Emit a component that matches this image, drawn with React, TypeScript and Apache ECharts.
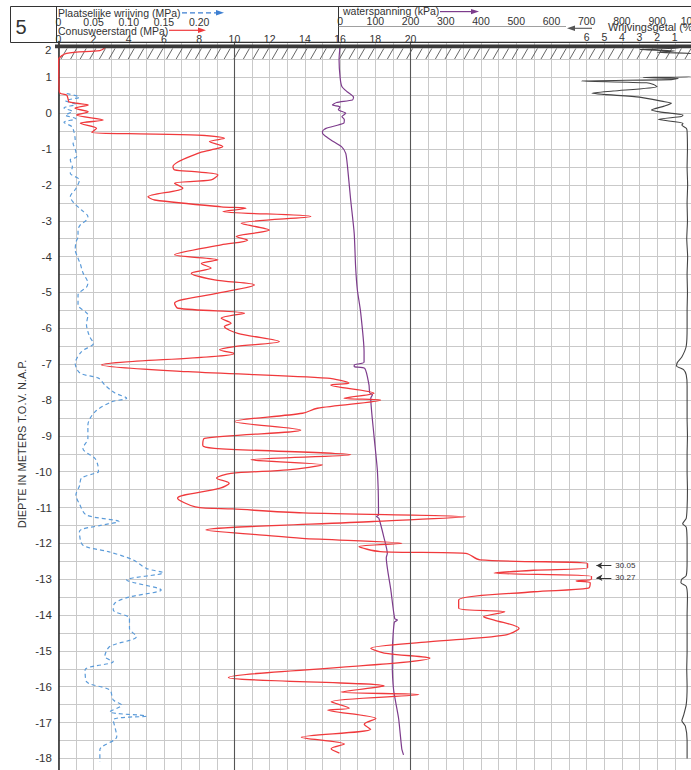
import React, { useEffect, useRef } from "react";
import * as echarts from "echarts";

// ---- Data ----
// Conusweerstand qc (MPa) vs depth (m t.o.v. NAP)
const qcDepth = [1.83,1.75,1.67,1.49,0.65,0.56,0.51,0.37,0.32,0.28,0.23,0.14,0.04,-0.05,-0.19,-0.28,-0.42,-0.53,-0.57,-0.61,-0.70,-0.79,-0.93,-1.02,-1.12,-1.49,-1.58,-1.63,-1.72,-1.86,-1.95,-2.09,-2.33,-2.42,-2.61,-2.65,-2.74,-2.88,-3.07,-3.26,-3.44,-3.54,-3.67,-3.95,-4.09,-4.19,-4.32,-4.46,-4.65,-4.79,-5.02,-5.30,-5.44,-5.58,-5.72,-5.86,-5.95,-6.14,-6.37,-6.51,-6.60,-6.70,-7.02,-7.21,-7.39,-7.53,-7.58,-7.81,-7.95,-8.00,-8.23,-8.37,-8.60,-8.84,-9.07,-9.26,-9.35,-9.53,-9.67,-9.81,-9.95,-10.05,-10.18,-10.32,-10.46,-10.74,-10.98,-11.04,-11.15,-11.26,-11.39,-11.63,-11.77,-11.86,-12.00,-12.09,-12.23,-12.28,-12.46,-12.56,-12.68,-12.75,-12.83,-12.92,-13.00,-13.05,-13.10,-13.25,-13.35,-13.58,-13.81,-13.91,-14.05,-14.14,-14.37,-14.56,-14.75,-14.93,-15.06,-15.20,-15.74,-15.98,-16.15,-16.22,-16.42,-16.60,-16.65,-16.89,-17.05,-17.19,-17.41,-17.60,-17.73,-17.85];
const qcValue = [2.65,2.36,0.47,0.02,0.05,0.1,0.47,0.57,0.6,1.04,1.7,0.95,1.7,1.04,2.55,1.25,2.17,1.9,4.0,7.92,9.43,8.58,9.34,8.68,7.92,6.51,6.6,7.74,9.06,8.68,6.6,7.07,5.09,5.47,9.25,10.66,9.34,14.34,10.38,11.98,10.1,10.75,9.25,6.6,9.06,8.12,8.68,7.55,8.87,11.13,9.06,6.6,6.79,10.57,9.25,9.81,9.43,10.19,12.55,10.0,9.15,10.0,2.46,7.36,15.28,16.5,15.47,17.92,16.22,18.3,14.71,13.87,10.0,13.77,8.3,8.2,8.87,16.6,10.94,14.99,13.03,9.8,8.99,9.7,9.19,6.77,7.78,9.9,13.9,23.13,17.88,8.38,11.6,13.84,19.5,17.07,18.28,23.13,23.94,30.05,30.05,27.0,24.75,30.27,30.27,29.4,30.2,30.1,27.0,22.73,22.73,25.35,24.14,24.75,26.16,25.35,21.0,17.74,18.5,21.1,9.66,18.5,16.05,20.47,15.49,16.52,15.3,18.03,17.37,17.74,13.8,16.24,15.49,15.96];

// Plaatselijke wrijving fs (MPa)
const fsDepth = [0.55,0.45,0.35,0.25,0.15,0.05,-0.05,-0.15,-0.25,-0.37,-0.5,-0.75,-0.84,-1.0,-1.21,-1.3,-1.5,-1.67,-1.86,-2.1,-2.33,-2.5,-2.7,-2.88,-2.98,-3.12,-3.26,-3.44,-3.6,-3.81,-4.0,-4.19,-4.45,-4.74,-4.85,-5.07,-5.35,-5.63,-5.9,-6.09,-6.25,-6.42,-6.65,-6.98,-7.25,-7.39,-7.58,-7.8,-7.95,-8.05,-8.33,-8.7,-9.07,-9.35,-9.63,-9.81,-10.0,-10.05,-10.18,-10.4,-10.65,-10.9,-11.21,-11.39,-11.5,-11.67,-12.05,-12.23,-12.46,-12.7,-12.82,-13.02,-13.3,-13.5,-13.67,-13.86,-14.09,-14.37,-14.6,-14.88,-15.16,-15.3,-15.53,-15.86,-16.09,-16.37,-16.51,-16.7,-16.82,-16.93,-17.39,-17.76,-18.09];
const fsValue = [0.012,0.03,0.01,0.025,0.008,0.02,0.01,0.025,0.008,0.019,0.022,0.024,0.021,0.024,0.026,0.017,0.02,0.017,0.03,0.025,0.017,0.022,0.033,0.042,0.04,0.031,0.028,0.028,0.025,0.024,0.027,0.031,0.035,0.042,0.04,0.028,0.028,0.042,0.04,0.042,0.045,0.05,0.033,0.024,0.031,0.057,0.066,0.08,0.097,0.076,0.052,0.042,0.042,0.035,0.052,0.056,0.057,0.051,0.033,0.03,0.025,0.03,0.04,0.086,0.06,0.03,0.035,0.071,0.106,0.125,0.149,0.097,0.146,0.1,0.08,0.078,0.101,0.101,0.111,0.073,0.066,0.078,0.038,0.04,0.073,0.078,0.09,0.073,0.125,0.078,0.083,0.059,0.059];

// Waterspanning u (kPa)
const uDepth = [1.9,1.5,1.0,0.75,0.6,0.45,0.37,0.3,0.23,0.18,0.1,0.0,-0.09,-0.18,-0.28,-0.42,-0.5,-0.56,-0.65,-0.75,-0.93,-1.12,-1.49,-2.42,-3.35,-4.28,-4.93,-5.53,-6.65,-6.95,-7.02,-7.07,-7.12,-7.58,-7.8,-7.85,-7.95,-8.98,-10.0,-11.21,-11.25,-11.3,-11.86,-12.28,-12.4,-13.3,-14.1,-14.14,-14.2,-14.79,-15.31,-16.1,-16.88,-17.73,-17.9];
const uValue = [0,-3,0,5,20,38,35,-10,-22,0,-5,16,5,12,10,-40,-50,-50,-40,-25,4,16,21,30,40,44,49,58,68,68,40,40,70,82,84,92,87,96,106,109,103,110,125,134,131,144,155,163,154,149,148,152,166,175,180];

// Wrijvingsgetal Rf (%)
const rfDepth = [1.88,1.85,1.82,1.78,1.74,1.7,1.65,1.04,1.0,0.97,0.94,0.9,0.85,0.8,0.74,0.62,0.56,0.45,0.32,0.28,0.2,0.09,0.04,-0.05,-0.09,-0.17,-0.28,-0.33,-0.42,-0.5,-1.0,-1.5,-2.0,-2.5,-3.0,-3.5,-4.0,-4.5,-5.0,-5.5,-6.0,-6.5,-6.8,-6.95,-7.05,-7.15,-7.3,-7.6,-8.0,-8.5,-9.0,-9.5,-10.0,-10.5,-11.0,-11.3,-11.45,-11.55,-12.0,-12.5,-12.9,-13.0,-13.1,-13.2,-13.5,-14.0,-14.5,-15.0,-15.5,-16.0,-16.5,-16.8,-16.95,-17.1,-17.5,-18.0];
const rfValue = [0,2.5,0.8,3.0,1.0,2.0,0,0,2.8,0.8,1.2,6.3,2.6,2.2,2.0,4.5,5.7,3.0,1.57,1.19,1.6,2.33,1.85,0.53,0.63,1.94,0.53,0.6,0.34,0.3,0.28,0.3,0.27,0.3,0.28,0.32,0.27,0.3,0.28,0.3,0.3,0.35,0.6,0.85,0.9,0.5,0.35,0.3,0.3,0.3,0.28,0.3,0.3,0.28,0.3,0.35,0.55,0.35,0.3,0.3,0.35,0.6,0.65,0.35,0.28,0.3,0.3,0.3,0.32,0.3,0.35,0.5,0.6,0.4,0.3,0.3];

// Clipped peak annotations
const peakDepths = [-12.62, -12.96];
const peakValues = [30.05, 30.27];

// Tick labels
const coneTicks = [0, 2, 4, 6, 8, 10, 12, 14, 16, 18, 20];
const fsTicks = [0, 0.05, 0.1, 0.15, 0.2];
const uTicks = [0, 100, 200, 300, 400, 500, 600, 700, 800, 900, 1000];
const rfTicks = [1, 2, 3, 4, 5, 6];
const depthLabelMin = -18;
const depthLabelMax = 1;

const FONT = '"Liberation Sans", Arial, sans-serif';
const RED = "#f0393c";
const BLUE = "#5b9bd9";
const PURPLE = "#7d3c8c";
const GRIDC = "#c9c9c9";

const has = (arr: number[], v: number) => arr.some((t) => Math.abs(t - v) < 1e-9);

export default function App() {
  const ref = useRef<HTMLDivElement>(null);
  useEffect(() => {
    if (!ref.current) return;
    const chart = echarts.init(ref.current, null, { renderer: "svg" });

    const hatch: any[] = [];
    for (let x = 61; x < 712; x += 9.6) {
      hatch.push({
        type: "line",
        shape: { x1: x, y1: 59, x2: x + 6, y2: 48.5 },
        style: { stroke: "#555", lineWidth: 0.9 },
        z: 1,
      });
    }

    const txt = (text: string, x: number, y: number, size: number, extra: any = {}) => ({
      type: "text",
      z: 10,
      style: {
        text,
        x,
        y,
        fill: "#333",
        fontSize: size,
        lineHeight: size,
        fontFamily: FONT,
        textVerticalAlign: "middle",
        ...extra,
      },
    });

    const graphic: any[] = [
      { type: "rect", z: 10, shape: { x: 10.5, y: 6.5, width: 720, height: 36 }, style: { fill: "none", stroke: "#333", lineWidth: 1 } },
      { type: "line", z: 10, shape: { x1: 56.5, y1: 6.5, x2: 56.5, y2: 42.5 }, style: { stroke: "#333", lineWidth: 1 } },
      { type: "line", z: 10, shape: { x1: 338.5, y1: 6.5, x2: 338.5, y2: 42.5 }, style: { stroke: "#333", lineWidth: 1 } },
      { type: "line", z: 10, shape: { x1: 338.5, y1: 26.5, x2: 566, y2: 26.5 }, style: { stroke: "#888", lineWidth: 0.8 } },
      { type: "rect", z: 10, shape: { x: 55, y: 44.5, width: 680, height: 3.8 }, style: { fill: "#3a3a3a" } },
      ...hatch,
      txt("5", 21, 27, 20, { textAlign: "center" }),
      txt("Plaatselijke wrijving (MPa)", 58, 13, 10.5),
      { type: "line", z: 10, shape: { x1: 182, y1: 12.8, x2: 217, y2: 12.8 }, style: { stroke: "#3d7fd1", lineWidth: 1.3, lineDash: [5, 3] } },
      { type: "polygon", z: 10, shape: { points: [[216, 10], [224, 12.8], [216, 15.6]] }, style: { fill: "#3d7fd1" } },
      txt("Conusweerstand (MPa)", 58, 30.8, 10.5),
      { type: "line", z: 10, shape: { x1: 169, y1: 30.3, x2: 199, y2: 30.3 }, style: { stroke: RED, lineWidth: 1.2 } },
      { type: "polygon", z: 10, shape: { points: [[198, 27.6], [206, 30.3], [198, 33]] }, style: { fill: RED } },
      txt("waterspanning (kPa)", 343, 11, 10.5),
      { type: "line", z: 10, shape: { x1: 440, y1: 11.6, x2: 472, y2: 11.6 }, style: { stroke: PURPLE, lineWidth: 1.2 } },
      { type: "polygon", z: 10, shape: { points: [[471, 8.9], [479, 11.6], [471, 14.3]] }, style: { fill: PURPLE } },
      txt("Wrijvingsgetal (%)", 608, 27, 11),
      { type: "line", z: 10, shape: { x1: 574, y1: 28.3, x2: 592, y2: 28.3 }, style: { stroke: "#555", lineWidth: 1.1 } },
      { type: "polygon", z: 10, shape: { points: [[575, 25.6], [567, 28.3], [575, 31]] }, style: { fill: "#555" } },
      txt("2", 51.5, 49.5, 11.5, { textAlign: "right" }),
      {
        type: "text",
        z: 10,
        x: 22,
        y: 444,
        rotation: Math.PI / 2,
        style: {
          text: "DIEPTE IN METERS T.O.V. N.A.P.",
          fill: "#333",
          fontSize: 11,
          fontFamily: FONT,
          textAlign: "center",
          textVerticalAlign: "middle",
        },
      },
    ];

    const hidden = { axisLine: { show: false }, axisTick: { show: false }, splitLine: { show: false } };
    const lbl = { margin: 0, fontSize: 10.5, lineHeight: 10, color: "#333", fontFamily: FONT };

    const markLineData: any[] = [
      { xAxis: 10, lineStyle: { color: "#555", width: 1.1, type: "solid" }, label: { show: false } },
      { xAxis: 20, lineStyle: { color: "#555", width: 1.1, type: "solid" }, label: { show: false } },
      ...peakValues.map((v, i) => [
        {
          coord: [30.55, peakDepths[i]],
          symbol: "arrow",
          symbolSize: [5, 6],
          lineStyle: { color: "#333", width: 1, type: "solid" },
          label: { show: true, position: "end", distance: 4, formatter: v.toFixed(2), fontSize: 8, color: "#333", fontFamily: FONT },
        },
        { coord: [31.4, peakDepths[i]], symbol: "none" },
      ]),
    ];

    chart.setOption({
      animation: false,
      backgroundColor: "#fff",
      grid: { left: 58.3, right: 0.91, top: 41.6, bottom: 0.68, containLabel: false },
      xAxis: [
        {
          type: "value", position: "top", min: 0, max: 37, interval: 1, offset: -2,
          axisLine: { show: false }, axisTick: { show: false },
          splitLine: { show: true, lineStyle: { color: GRIDC, width: 1 } },
          axisLabel: { ...lbl, formatter: (v: number) => (has(coneTicks, v) ? String(v) : "") },
        },
        {
          type: "value", position: "top", min: 0, max: 37 / 40, interval: 0.05, offset: 15, ...hidden,
          axisLabel: { ...lbl, formatter: (v: number) => (has(fsTicks, v) ? (v === 0 ? "0" : v.toFixed(2)) : "") },
        },
        {
          type: "value", position: "top", min: -800, max: 1050, interval: 100, offset: 16, ...hidden,
          axisLabel: { ...lbl, formatter: (v: number) => (has(uTicks, v) ? String(v) : "") },
        },
        {
          type: "value", position: "top", min: -1, max: 36, inverse: true, interval: 1, offset: -0.5, ...hidden,
          axisLabel: { ...lbl, formatter: (v: number) => (has(rfTicks, v) ? String(v) : "") },
        },
      ],
      yAxis: {
        type: "value", min: -18.5, max: 2, interval: 0.5,
        axisLine: { show: true, onZero: false, lineStyle: { color: "#222", width: 1.5 } },
        axisTick: { show: false },
        splitLine: { show: true, lineStyle: { color: GRIDC, width: 1 } },
        axisLabel: {
          margin: 6.5, fontSize: 11.5, color: "#333", fontFamily: FONT,
          formatter: (v: number) =>
            Math.abs(v - Math.round(v)) < 1e-9 && v >= depthLabelMin && v <= depthLabelMax ? String(Math.round(v)) : "",
        },
      },
      graphic,
      series: [
        {
          type: "line", name: "Plaatselijke wrijving", xAxisIndex: 1, yAxisIndex: 0,
          data: fsDepth.map((d, i) => [fsValue[i], d]),
          symbol: "none", smooth: 0.3,
          lineStyle: { color: BLUE, width: 1.2, type: [4, 3] },
          z: 3,
        },
        {
          type: "line", name: "waterspanning", xAxisIndex: 2, yAxisIndex: 0,
          data: uDepth.map((d, i) => [uValue[i], d]),
          symbol: "none", smooth: 0.2,
          lineStyle: { color: PURPLE, width: 1.2 },
          z: 3,
        },
        {
          type: "line", name: "Wrijvingsgetal", xAxisIndex: 3, yAxisIndex: 0,
          data: rfDepth.map((d, i) => [rfValue[i], d]),
          symbol: "none", smooth: 0.2,
          lineStyle: { color: "#444", width: 1.1 },
          z: 3,
        },
        {
          type: "line", name: "Conusweerstand", xAxisIndex: 0, yAxisIndex: 0,
          data: qcDepth.map((d, i) => [qcValue[i], d]),
          symbol: "none", smooth: 0.3,
          lineStyle: { color: RED, width: 1.3 },
          z: 4,
          markLine: { silent: true, symbol: "none", animation: false, data: markLineData },
        },
      ],
    });

    return () => chart.dispose();
  }, []);

  return (
    <div style={{ position: "absolute", left: 0, top: 0, width: 691, height: 770, overflow: "hidden", background: "#fff" }}>
      <div ref={ref} style={{ width: 713, height: 777 }} />
    </div>
  );
}
